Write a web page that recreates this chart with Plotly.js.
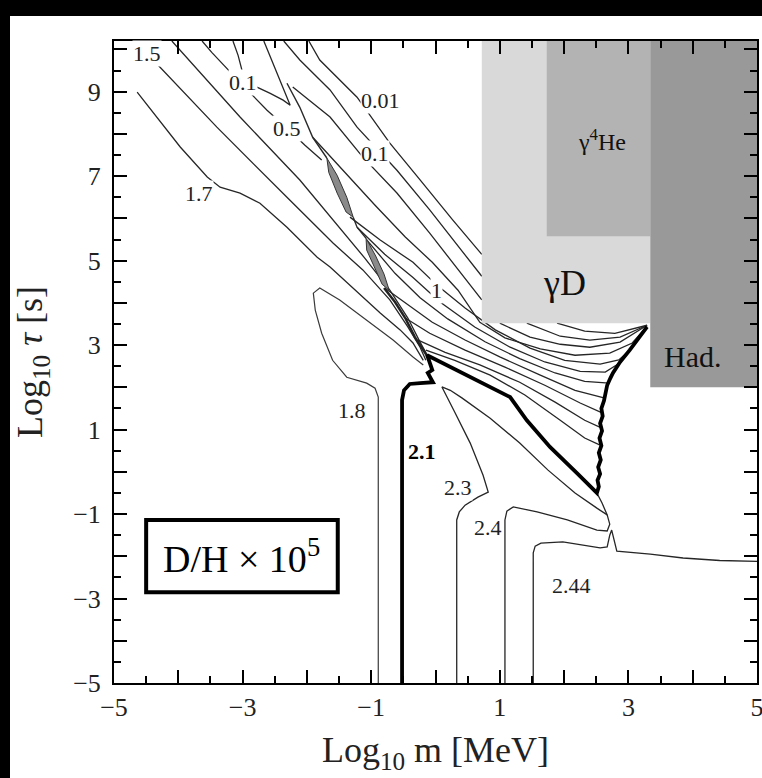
<!DOCTYPE html>
<html>
<head>
<meta charset="utf-8">
<script src="https://cdn.plot.ly/plotly-3.0.1.min.js"></script>
<style>
  html, body { margin: 0; padding: 0; background: #000; width: 762px; height: 778px; overflow: hidden; }
  #plot { position: absolute; left: 10px; top: 16px; width: 752px; height: 762px; background: #fff; }
</style>
</head>
<body>
<div id="plot"></div>
<script>
// ---------- axis ticks ----------
const xTickVals = [-5,-3,-1,1,3,5];
const xTickText = ['\u22125','\u22123','\u22121','1','3','5'];
const xEvenVals = [-4,-2,0,2,4];
const xMinorVals = [-4.5,-3.5,-2.5,-1.5,-0.5,0.5,1.5,2.5,3.5,4.5];
const yTickVals = [-5,-3,-1,1,3,5,7,9];
const yTickText = ['\u22125','\u22123','\u22121','1','3','5','7','9'];
const yEvenVals = [-4,-2,0,2,4,6,8,10];
const yMinorVals = [-4.5,-3.5,-2.5,-1.5,-0.5,0.5,1.5,2.5,3.5,4.5,5.5,6.5,7.5,8.5,9.5];

// ---------- contour lines (Log10 m, Log10 tau) ----------
const c17x = [-4.64,-4.28,-3.97,-3.55,-3.35,-3.04,-2.73,-2.31,-1.84,-1.64,-1.25,-0.86,-0.55,-0.35,-0.19];
const c17y = [8.99,8.28,7.69,6.98,6.74,6.60,6.36,5.79,5.08,4.85,4.30,3.76,3.36,3.05,2.64];
const c15x = [-4.49,-3.40,-2.31,-1.59,-1.13,-0.71,-0.43,-0.24,-0.15];
const c15y = [9.91,8.16,6.50,5.41,4.78,4.07,3.43,2.95,2.64];
const c2x = [-4.10,-3.94,-3.04,-2.11,-1.56,-1.10,-0.71,-0.43,-0.24,-0.12];
const c2y = [10.20,9.93,8.40,6.91,5.91,5.06,4.30,3.64,3.07,2.74];
const c05x = [-3.63,-3.48,-3.04,-2.62,-2.31,-2.03,-1.77];
const c05y = [10.20,9.93,9.22,8.56,8.14,7.73,7.38];
const c01vx = [-3.15,-3.07,-2.99,-2.81,-2.57,-2.37,-2.26,-2.37,-2.48,-2.60,-2.67];
const c01vy = [10.20,9.86,9.39,9.13,8.96,8.80,8.68,9.08,9.51,9.93,10.20];

const u1x = [-1.97,-1.80,-1.22,-0.71,-0.24,0.27,0.72,null,1.89,2.32,2.79,3.10,3.29];
const u1y = [10.20,9.75,8.87,7.78,6.91,5.96,5.15,null,3.52,3.33,3.28,3.40,3.47];
const u2x = [-2.36,-2.11,-1.64,-1.22,-0.60,-0.09,0.72,null,1.42,1.94,2.40,2.87,3.29];
const u2y = [10.20,9.75,9.04,8.16,7.14,6.20,4.63,null,3.52,3.21,3.12,3.19,3.47];
const u3x = [-2.22,-1.64,-1.13,-0.60,-0.09,0.54,0.72,null,1.00,1.47,1.94,2.40,2.87,3.29];
const u3y = [9.11,8.40,7.45,6.60,5.65,4.42,4.07,null,3.52,3.19,3.02,2.95,3.07,3.47];
const u4x = [-1.91,-1.41,-0.94,-0.47,-0.05,0.35,0.69,1.08,1.63,2.17,2.71,3.06,3.29];
const u4y = [7.92,7.09,6.31,5.56,4.96,4.30,3.54,3.17,2.91,2.76,2.81,3.05,3.45];
const u5x = [-1.33,-0.86,-0.35,0.02,0.46,0.93,1.47,2.01,2.56,2.85,3.02];
const u5y = [6.03,5.49,4.96,4.42,3.88,3.36,2.93,2.64,2.55,2.65,2.88];
const u6x = [-1.22,-0.79,-0.35,0.07,0.61,1.16,1.70,2.25,2.64,2.89];
const u6y = [5.79,5.15,4.60,4.02,3.43,2.95,2.60,2.38,2.36,2.60];
const u7x = [-1.07,-0.63,-0.24,0.19,0.77,1.31,1.86,2.32,2.70];
const u7y = [5.49,4.70,4.12,3.62,3.08,2.68,2.34,2.14,2.10];
const u8x = [-0.79,-0.43,-0.05,0.46,1.00,1.63,2.17,2.62];
const u8y = [4.35,3.95,3.54,3.12,2.72,2.29,1.93,1.75];
const u9x = [-0.47,-0.09,0.46,1.08,1.70,2.25,2.60];
const u9y = [3.64,3.28,2.88,2.48,2.05,1.63,1.39];
const u10x = [-0.27,0.15,0.69,1.31,1.86,2.32,2.58];
const u10y = [3.12,2.83,2.53,2.12,1.65,1.22,1.04];
const u11x = [-0.15,0.30,0.85,1.39,1.94,2.32,2.56];
const u11y = [2.88,2.64,2.29,1.82,1.22,0.80,0.63];

const c18x = [-0.89,-0.89,-0.94,-1.07,-1.38,-1.60,-1.77,-1.87,-1.90,-1.80,-1.49,-1.07,-0.66,-0.35,-0.19];
const c18y = [-5,1.77,1.98,2.10,2.24,2.64,3.28,3.83,4.23,4.35,4.07,3.59,3.12,2.72,2.53];
const c21x = [-0.52,-0.52,-0.49,-0.40,-0.24,-0.04,-0.12,-0.05,-0.13,0.23,0.74,1.16,1.42,1.78,2.20,2.51,
              2.54,2.52,2.56,2.53,2.57,2.54,2.58,2.55,2.59,2.56,2.60,2.58,2.62,2.64,2.67,2.72,2.76,2.87,3.02,3.29];
const c21y = [-5,1.70,1.93,2.08,2.10,2.12,2.34,2.41,2.76,2.48,2.10,1.77,1.22,0.59,-0.03,-0.50,
              -0.35,-0.20,-0.05,0.11,0.28,0.45,0.62,0.80,0.97,1.15,1.32,1.50,1.68,1.85,2.05,2.22,2.34,2.60,2.88,3.43];
const c23x = [0.33,0.33,0.37,0.46,0.66,0.82,0.74,0.54,0.30,0.15,0.10,0.23,0.41,0.85,1.31,1.75,2.17,2.51,2.67];
const c23y = [-5,-1.14,-0.95,-0.79,-0.60,-0.48,-0.08,0.68,1.41,1.89,2.01,1.93,1.75,1.27,0.68,0.04,-0.50,-0.86,-1.02];
const c24x = [1.08,1.08,1.11,1.21,1.58,2.05,2.51,2.67,2.71,2.67,2.59,2.51];
const c24y = [-5,-1.14,-0.93,-0.83,-0.95,-1.14,-1.38,-1.40,-1.24,-1.02,-0.74,-0.50];
const c244x = [1.52,1.52,1.55,1.64,1.98,2.56,2.67,2.71,2.74,2.78,2.82,3.34,3.85,4.42,5.0];
const c244y = [-5,-1.92,-1.76,-1.69,-1.66,-1.80,-1.78,-1.50,-1.38,-1.62,-1.88,-1.95,-2.04,-2.10,-2.12];

// fold ridge and its lens-shaped artefacts
const ridgeX = [-2.31,-2.11,-1.91,-1.69,null,-1.28,-1.22,-1.08];
const ridgeY = [9.20,8.63,7.92,7.43,null,6.03,5.79,5.53];
const foldX = [-0.80,-0.63,-0.47,-0.32,-0.19,-0.13];
const foldY = [4.35,4.02,3.64,3.19,2.88,2.74];
const lens1X = [-1.69,-1.53,-1.38,-1.28,-1.39,-1.53,-1.66,-1.69];
const lens1Y = [7.43,7.02,6.50,6.03,6.15,6.60,7.09,7.43];
const lens2X = [-1.08,-0.93,-0.80,-0.72,-0.83,-0.96,-1.07,-1.08];
const lens2Y = [5.53,5.11,4.68,4.30,4.44,4.87,5.25,5.53];

// shaded excluded regions
const gDx = [0.72,3.34,3.34,0.72,0.72];
const gDy = [3.52,3.52,10.3,10.3,3.52];
const gHex = [1.73,3.34,3.34,1.73,1.73];
const gHey = [5.58,5.58,10.3,10.3,5.58];
const gHadx = [3.34,5.1,5.1,3.34,3.34];
const gHady = [2.0,2.0,10.3,10.3,2.0];

// contour labels
const labText = ['1.5','0.1','0.5','0.01','0.1','1.7','1','1.8','2.3','2.4','2.44'];
const labX = [-4.49,-2.99,-2.31,-0.86,-0.94,-3.68,0.02,-1.30,0.35,0.82,2.11];
const labY = [9.91,9.22,8.14,8.80,7.54,6.60,4.30,1.46,-0.36,-1.33,-2.68];
const boldLabel = {text: '2.1', x: -0.21, y: 0.47};

// legend box
const boxX = [-4.50,-1.52];
const boxY = [-2.85,-1.14];

const FONT = 'Liberation Serif, Times New Roman, serif';
const thin = {color: '#262626', width: 1.3};
function ln(x, y, line) {
  return {x: x, y: y, type: 'scatter', mode: 'lines', line: line || thin,
          hoverinfo: 'skip', showlegend: false, connectgaps: false};
}
const traces = [
  ln(c17x,c17y), ln(c15x,c15y), ln(c2x,c2y), ln(c05x,c05y), ln(c01vx,c01vy),
  ln(u1x,u1y), ln(u2x,u2y), ln(u3x,u3y), ln(u4x,u4y), ln(u5x,u5y), ln(u6x,u6y),
  ln(u7x,u7y), ln(u8x,u8y), ln(u9x,u9y), ln(u10x,u10y), ln(u11x,u11y),
  ln(c18x,c18y,{color:'#3a3a3a',width:1.2}), ln(c23x,c23y), ln(c24x,c24y), ln(c244x,c244y),
  ln(ridgeX,ridgeY,{color:'#2a2a2a',width:1.4}),
  {x: lens1X, y: lens1Y, type:'scatter', mode:'lines', fill:'toself', fillcolor:'#8a8a8a',
   line:{color:'#333',width:1}, hoverinfo:'skip', showlegend:false},
  {x: lens2X, y: lens2Y, type:'scatter', mode:'lines', fill:'toself', fillcolor:'#8a8a8a',
   line:{color:'#333',width:1}, hoverinfo:'skip', showlegend:false},
  ln(foldX,foldY,{color:'#222',width:2.4}),
  ln(c21x,c21y,{color:'#000',width:3.8}),
  {x: gDx, y: gDy, type:'scatter', mode:'none', fill:'toself', fillcolor:'#d9d9d9', hoverinfo:'skip', showlegend:false},
  {x: gHex, y: gHey, type:'scatter', mode:'none', fill:'toself', fillcolor:'#b3b3b3', hoverinfo:'skip', showlegend:false},
  {x: gHadx, y: gHady, type:'scatter', mode:'none', fill:'toself', fillcolor:'#999999', hoverinfo:'skip', showlegend:false},
  // carrier for the overlay axes that hold the unlabelled integer ticks
  {x: [0], y: [0], xaxis: 'x2', yaxis: 'y2', type:'scatter', mode:'markers', marker:{opacity:0}, hoverinfo:'skip', showlegend:false}
];

const annotations = labText.map((t, i) => ({
  x: labX[i], y: labY[i], xref: 'x', yref: 'y', text: t, showarrow: false,
  font: {family: FONT, size: 22, color: '#222'}, bgcolor: 'rgba(255,255,255,1)', borderpad: 0
}));
annotations.push({x: boldLabel.x, y: boldLabel.y, xref:'x', yref:'y', text: '<b>' + boldLabel.text + '</b>',
  showarrow:false, font:{family:FONT, size:22, color:'#000'}, bgcolor:'#fff', borderpad:0});
annotations.push({x: 2.01, y: 4.47, xref:'x', yref:'y', text:'\u03b3D', showarrow:false,
  font:{family:FONT, size:36, color:'#111'}});
annotations.push({x: 2.59, y: 7.85, xref:'x', yref:'y', text:'\u03b3<sup>4</sup>He', showarrow:false,
  font:{family:FONT, size:24, color:'#111'}});
annotations.push({x: 3.99, y: 2.72, xref:'x', yref:'y', text:'Had.', showarrow:false,
  font:{family:FONT, size:30, color:'#111'}});
annotations.push({x: (boxX[0]+boxX[1])/2, y: (boxY[0]+boxY[1])/2, xref:'x', yref:'y',
  text:'D/H \u00d7 10<sup>5</sup>', showarrow:false, font:{family:FONT, size:38, color:'#000'}});

const layout = {
  width: 752, height: 762,
  margin: {l: 104, r: 5, t: 25, b: 95},
  paper_bgcolor: '#fff', plot_bgcolor: '#fff',
  showlegend: false,
  font: {family: FONT, color: '#000'},
  xaxis: {
    range: [-5, 5], showgrid: false, zeroline: false,
    showline: true, linecolor: '#000', linewidth: 2, mirror: 'ticks',
    ticks: 'inside', ticklen: 13, tickwidth: 2, tickcolor: '#000',
    tickmode: 'array', tickvals: xTickVals, ticktext: xTickText, ticklabeloverflow: 'allow',
    tickfont: {family: FONT, size: 26, color: '#222'},
    minor: {ticks: 'inside', ticklen: 7, tickwidth: 2, tickcolor: '#000', tickvals: xMinorVals, showgrid: false},
    title: {text: 'Log<sub>10</sub> m [MeV]', font: {family: FONT, size: 36, color: '#222'}, standoff: 16},
    automargin: false, layer: 'above traces'
  },
  yaxis: {
    range: [-5, 10.2], showgrid: false, zeroline: false,
    showline: true, linecolor: '#000', linewidth: 2, mirror: 'ticks',
    ticks: 'inside', ticklen: 13, tickwidth: 2, tickcolor: '#000',
    tickmode: 'array', tickvals: yTickVals, ticktext: yTickText, ticklabeloverflow: 'allow',
    tickfont: {family: FONT, size: 26, color: '#222'}, ticklabelstandoff: 6,
    minor: {ticks: 'inside', ticklen: 7, tickwidth: 2, tickcolor: '#000', tickvals: yMinorVals, showgrid: false},
    title: {text: 'Log<sub>10</sub> <i>\u03c4</i> [s]', font: {family: FONT, size: 36, color: '#222'}, standoff: 22},
    automargin: false, layer: 'above traces'
  },
  xaxis2: {
    overlaying: 'x', anchor: 'y', side: 'bottom', range: [-5, 5],
    showgrid: false, zeroline: false, showline: true, linecolor: '#000', linewidth: 2, mirror: 'ticks',
    ticks: 'inside', ticklen: 13, tickwidth: 2, tickcolor: '#000',
    tickmode: 'array', tickvals: xEvenVals, showticklabels: false, layer: 'above traces'
  },
  yaxis2: {
    overlaying: 'y', anchor: 'x', side: 'left', range: [-5, 10.2],
    showgrid: false, zeroline: false, showline: true, linecolor: '#000', linewidth: 2, mirror: 'ticks',
    ticks: 'inside', ticklen: 13, tickwidth: 2, tickcolor: '#000',
    tickmode: 'array', tickvals: yEvenVals, showticklabels: false, layer: 'above traces'
  },
  shapes: [{type: 'rect', xref: 'x', yref: 'y', x0: boxX[0], x1: boxX[1], y0: boxY[0], y1: boxY[1],
            line: {color: '#000', width: 4}, fillcolor: 'rgba(0,0,0,0)', layer: 'above'}],
  annotations: annotations
};

Plotly.newPlot('plot', traces, layout, {staticPlot: true, displayModeBar: false});
</script>
</body>
</html>
